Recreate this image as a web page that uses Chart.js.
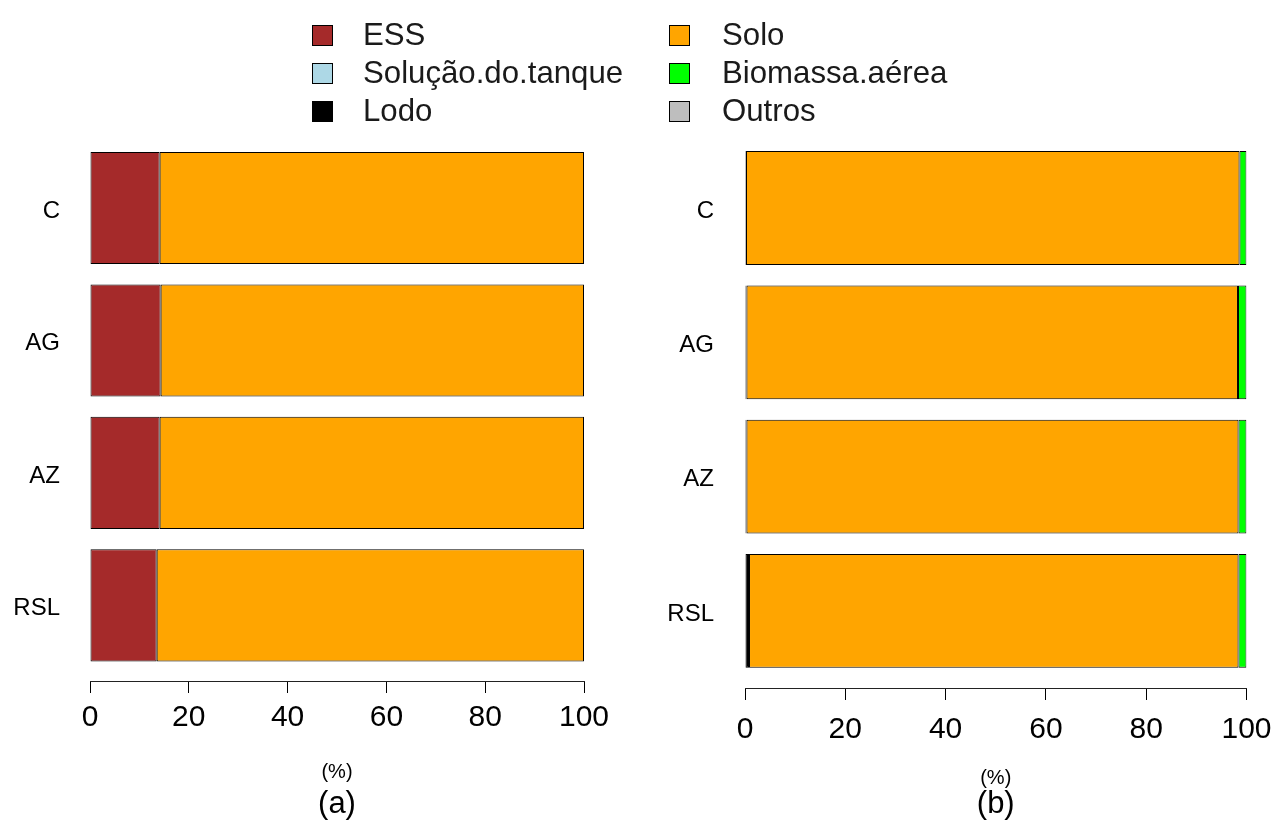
<!DOCTYPE html>
<html lang="pt">
<head>
<meta charset="UTF-8">
<title>Balanço (%)</title>
<script src="https://cdn.jsdelivr.net/npm/chart.js@4.4.1/dist/chart.umd.min.js"></script>
<style>
    body{
        margin: 0;
        background: #fff;
        font-family: 'Liberation Sans', Arial, sans-serif;
    }
    .wrap{
        position: relative;
        width: 1271px;
        height: 823px;
        overflow: hidden;
    }
    .painel{
        position: absolute;
        top: 0;
        height: 823px;
    }
    .leg{
        position: absolute;
        height: 38px;
        display: flex;
        align-items: center;
        font-size: 31.2px;
        color: #1a1a1a;
        white-space: nowrap;
    }
    .leg span.box{
        display: inline-block;
        width: 21px;
        height: 21px;
        box-sizing: border-box;
        border: 1px solid #000;
    }
</style>
</head>
<body>
<div class="wrap" id="wrap">
    <div class="painel" style="left:0px; width:640px;"><canvas id="graficoA"></canvas></div>
    <div class="painel" style="left:640px; width:700px;"><canvas id="graficoB"></canvas></div>
</div>
<script>
// categorias (de cima para baixo)
const categorias = ["C", "AG", "AZ", "RSL"];
const series = ["ESS", "Solução.do.tanque", "Lodo", "Solo", "Biomassa.aérea", "Outros"];
const cores = ["#A52A2A", "#ADD8E6", "#000000", "#FFA500", "#00FF00", "#BEBEBE"];
const ticksX = [0, 20, 40, 60, 80, 100];

// (a) valores em %
const a_ESS      = [14.1, 14.3, 14.1, 13.5];
const a_Solucao  = [0, 0, 0, 0];
const a_Lodo     = [0, 0, 0, 0];
const a_Solo     = [85.9, 85.7, 85.9, 86.5];
const a_Biomassa = [0, 0, 0, 0];
const a_Outros   = [0, 0, 0, 0];

// (b) valores em %
const b_ESS      = [0, 0, 0, 0];
const b_Solucao  = [0, 0, 0, 0];
const b_Lodo     = [0.2, 0.3, 0.3, 0.8];
const b_Solo     = [98.4, 98.0, 98.1, 97.6];
const b_Biomassa = [1.4, 1.7, 1.6, 1.6];
const b_Outros   = [0, 0, 0, 0];

const fonte = "'Liberation Sans', Arial, sans-serif";

function montaDatasets(valores){
    return series.map((nome, k) => ({
        label: nome,
        data: valores[k].map((v, i) => ({x: v === 0 ? null : v, y: i})),
        backgroundColor: cores[k],
        borderColor: "#000",
        borderWidth: 1,
        borderSkipped: false,
        barPercentage: 0.847,
        categoryPercentage: 1
    }));
}

function criaGrafico(id, valores, cfg){
    const el = document.getElementById(id);
    el.parentNode.style.height = "823px";
    return new Chart(el, {
        type: "bar",
        data: {datasets: montaDatasets(valores)},
        options: {
            indexAxis: "y",
            responsive: true,
            maintainAspectRatio: false,
            animation: false,
            devicePixelRatio: 1,
            layout: {padding: {top: cfg.top, right: cfg.right, bottom: 0, left: 0}},
            plugins: {
                legend: {display: false},
                tooltip: {enabled: false},
                title: {
                    display: true,
                    position: "bottom",
                    fullSize: false,
                    text: cfg.letra,
                    color: "#000",
                    font: {family: fonte, size: 31, weight: "normal"},
                    padding: {top: 1.8, bottom: 0}
                }
            },
            scales: {
                x: {
                    type: "linear",
                    stacked: true,
                    min: 0,
                    max: 100,
                    offset: false,
                    afterBuildTicks: (s) => { s.ticks = ticksX.map(v => ({value: v})); },
                    afterFit: (s) => { s.height = cfg.xHeight; },
                    grid: {drawOnChartArea: false, drawTicks: true, tickLength: 12, color: "#000"},
                    border: {display: true, color: "#222", width: 1},
                    ticks: {color: "#000", padding: cfg.tickPad, font: {family: fonte, size: 30}, maxRotation: 0},
                    title: {
                        display: true,
                        text: "(%)",
                        color: "#000",
                        font: {family: fonte, size: 20},
                        padding: {top: 0, bottom: cfg.titPadBot}
                    }
                },
                y: {
                    type: "linear",
                    stacked: true,
                    reverse: true,
                    offset: false,
                    grace: 0,
                    min: -0.5,
                    max: cfg.ymax,
                    afterBuildTicks: (s) => { s.ticks = categorias.map((c, i) => ({value: i})); },
                    afterFit: (s) => { s.width = cfg.yWidth; },
                    grid: {display: false, drawTicks: false},
                    border: {display: false},
                    ticks: {
                        color: "#000",
                        padding: cfg.yPad,
                        labelOffset: 3,
                        font: {family: fonte, size: 24},
                        callback: (v) => categorias[v]
                    }
                }
            }
        }
    });
}

criaGrafico("graficoA",
    [a_ESS, a_Solucao, a_Lodo, a_Solo, a_Biomassa, a_Outros],
    {letra: "(a)", top: 141.75, right: 56, ymax: 3.57, yWidth: 90, yPad: 30,
     xHeight: 103, tickPad: 7, titPadBot: 0});

criaGrafico("graficoB",
    [b_ESS, b_Solucao, b_Lodo, b_Solo, b_Biomassa, b_Outros],
    {letra: "(b)", top: 140.85, right: 93.5, ymax: 3.574, yWidth: 105, yPad: 31,
     xHeight: 96, tickPad: 12, titPadBot: -6});

// legenda em duas colunas (3 linhas cada)
const wrap = document.getElementById("wrap");
const colunas = [{box: 312, txt: 363}, {box: 669, txt: 722}];
const linhasY = [35, 73, 111];
series.forEach((nome, k) => {
    const col = colunas[k < 3 ? 0 : 1];
    const d = document.createElement("div");
    d.className = "leg";
    d.style.left = col.box + "px";
    d.style.top = (linhasY[k % 3] - 19) + "px";
    const b = document.createElement("span");
    b.className = "box";
    b.style.background = cores[k];
    b.style.marginRight = (col.txt - col.box - 21) + "px";
    d.appendChild(b);
    d.appendChild(document.createTextNode(nome));
    wrap.appendChild(d);
});
</script>
</body>
</html>
